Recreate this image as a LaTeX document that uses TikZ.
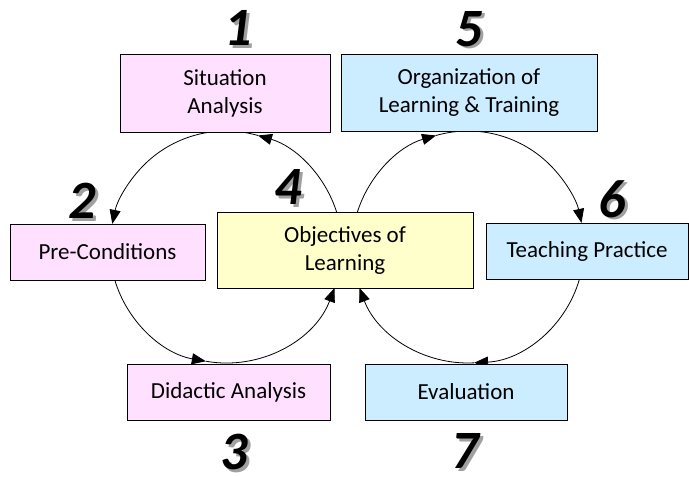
\documentclass[tikz,border=0pt]{standalone}
\usepackage{fontspec}
\setmainfont{Carlito}
\usetikzlibrary{arrows.meta}
\definecolor{pinkbox}{HTML}{FFE1FF}
\definecolor{bluebox}{HTML}{CCECFF}
\definecolor{yellowbox}{HTML}{FFFFCC}
\definecolor{shade}{HTML}{A0A0A0}
\begin{document}
\begin{tikzpicture}[x=1pt,y=1pt,
  box/.style={draw=black, line width=0.9pt, align=center, inner sep=0pt,
    font=\fontsize{23}{28}\selectfont},
  num/.style={inner sep=0pt, font=\fontsize{54}{54}\selectfont\bfseries\itshape},
  numshadow/.style={num, text=shade},
  cyc/.style={line width=0.8pt, -{Triangle[length=14pt,width=11pt]}}]
\useasboundingbox (0,0) rectangle (689,-477);
\fill[white] (0,0) rectangle (689,-477);
% circle centres
\coordinate (cl) at (226,-247);
\coordinate (cr) at (468,-247);
% left cycle
\draw[cyc] (cl) ++(17.5:116) arc[start angle=17.5, end angle=74, radius=116];
\draw[cyc] (cl) ++(74:116) arc[start angle=74, end angle=168.5, radius=116];
\draw[cyc] (cl) ++(196.5:116) arc[start angle=196.5, end angle=260, radius=116];
\draw[cyc] (cl) ++(260:116) arc[start angle=260, end angle=339.3, radius=116];
% right cycle
\draw[cyc] (cr) ++(162.5:116) arc[start angle=162.5, end angle=106, radius=116];
\draw[cyc] (cr) ++(106:116) arc[start angle=106, end angle=12, radius=116];
\draw[cyc] (cr) ++(-16:116) arc[start angle=-16, end angle=-87, radius=116];
\draw[cyc] (cr) ++(-87:116) arc[start angle=-87, end angle=-159.3, radius=116];
% boxes
\node[box, fill=pinkbox, minimum width=210pt, minimum height=78pt] (sa) at (225,-93) {Situation\\Analysis};
\node[box, fill=bluebox, minimum width=256pt, minimum height=77pt] (org) at (469,-92.5) {Organization of\\Learning \& Training};
\node[box, fill=pinkbox, minimum width=195pt, minimum height=56pt] (pre) at (107.5,-252) {Pre-Conditions};
\node[box, fill=yellowbox, minimum width=256pt, minimum height=76pt] (obj) at (345,-250) {Objectives of\\Learning};
\node[box, fill=bluebox, minimum width=202pt, minimum height=56pt] (tp) at (587,-251) {Teaching Practice};
\node[box, fill=pinkbox, minimum width=203pt, minimum height=56pt] (da) at (228.5,-392) {Didactic Analysis};
\node[box, fill=bluebox, minimum width=202pt, minimum height=56pt] (ev) at (466,-392) {Evaluation};
% numbers
\foreach \n/\x/\y in {1/238/-28, 5/469/-29, 2/82/-201, 4/288/-187, 6/612/-199, 3/234/-452, 7/465/-451}{
  \node[numshadow] (s\n) at (\x+3,\y-2.5) {\n};
  \node[num] (n\n) at (\x,\y) {\n};
}
\end{tikzpicture}
\end{document}
